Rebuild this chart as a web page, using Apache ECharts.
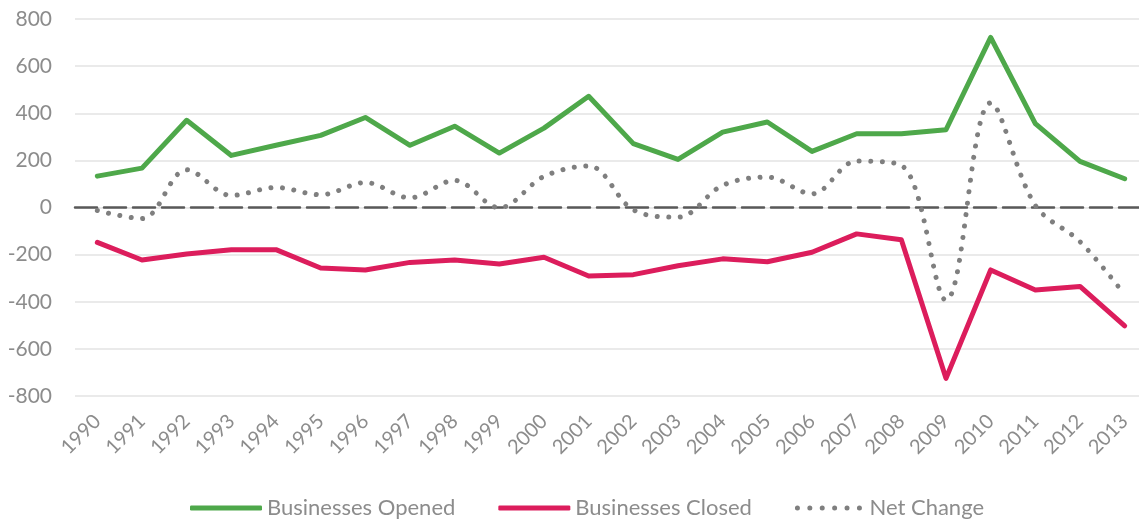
<!DOCTYPE html>
<html>
<head>
<meta charset="utf-8">
<script src="https://cdn.jsdelivr.net/npm/echarts@6/dist/echarts.min.js"></script>
<style>
html, body { margin: 0; padding: 0; background: #fff; }
#main { width: 1139px; height: 523px; }
</style>
</head>
<body>
<div id="main"></div>
<script>
var years = ['1990', '1991', '1992', '1993', '1994', '1995', '1996', '1997', '1998', '1999', '2000', '2001',
    '2002', '2003', '2004', '2005', '2006', '2007', '2008', '2009', '2010', '2011', '2012', '2013'];
var openedVals = [133, 167, 370, 221, 264, 306, 382, 264, 345, 231, 337, 472,
    271, 204, 320, 363, 238, 313, 313, 330, 722, 356, 196, 122];
var closedVals = [-148, -223, -197, -179, -179, -257, -265, -233, -223, -240, -211, -291,
    -285, -247, -218, -230, -190, -112, -137, -725, -265, -350, -335, -502];
var netVals = [-13, -47, 160, 51, 85, 54, 106, 41, 115, -1, 132, 176,
    -10, -41, 94, 129, 58, 197, 179, -393, 444, 9, -145, -370];
var yTicks = { min: -800, max: 800, step: 200 };

var font = 'Lato, "Open Sans", sans-serif';
var gray = '#8c8c8c';

// six dots for the legend icon of the dotted series
var dotPath = 'path://';
for (var i = 0; i < 6; i++) {
    var cx = 2.5 + i * 12.4;
    dotPath += 'M' + (cx - 2.5) + ' 2.5a2.5 2.5 0 1 0 5 0a2.5 2.5 0 1 0 -5 0Z';
}

var myChart = echarts.init(document.getElementById('main'));
var option = {
    animation: false,
    textStyle: { fontFamily: font },
    grid: {
        left: 75,
        top: 19,
        width: 1072,
        height: 377,
        containLabel: false,
        outerBoundsMode: 'none'
    },
    legend: {
        top: 492,
        left: 185,
        itemWidth: 72,
        itemHeight: 5,
        itemGap: 43,
        textStyle: { color: gray, fontSize: 22, fontFamily: font },
        data: [
            { name: 'Businesses Opened', icon: 'roundRect' },
            { name: 'Businesses Closed', icon: 'roundRect' },
            { name: 'Net Change', icon: dotPath }
        ]
    },
    xAxis: {
        type: 'category',
        data: years,
        boundaryGap: true,
        axisLine: {
            onZero: true,
            lineStyle: { color: '#595959', width: 2.5, type: [22, 7] }
        },
        axisTick: { show: false },
        axisLabel: {
            rotate: 45,
            margin: 22,
            color: gray,
            fontSize: 20,
            fontFamily: font,
            interval: 0
        }
    },
    yAxis: {
        type: 'value',
        min: yTicks.min,
        max: yTicks.max,
        interval: yTicks.step,
        axisLine: { show: false },
        axisTick: { show: false },
        splitLine: { lineStyle: { color: '#e3e3e3', width: 1.5 } },
        axisLabel: { color: gray, fontSize: 21, fontFamily: font, margin: 23 }
    },
    series: [
        {
            name: 'Businesses Opened',
            type: 'line',
            data: openedVals,
            symbol: 'none',
            z: 3,
            itemStyle: { color: '#4ea84a' },
            lineStyle: { color: '#4ea84a', width: 5, cap: 'round', join: 'round' }
        },
        {
            name: 'Businesses Closed',
            type: 'line',
            data: closedVals,
            symbol: 'none',
            z: 3,
            itemStyle: { color: '#dc1d5c' },
            lineStyle: { color: '#dc1d5c', width: 5, cap: 'round', join: 'round' }
        },
        {
            name: 'Net Change',
            type: 'line',
            data: netVals,
            symbol: 'none',
            smooth: 0.35,
            z: 2,
            itemStyle: { color: '#7f7f7f' },
            lineStyle: { color: '#7f7f7f', width: 5, type: [0.01, 11.5], cap: 'round' }
        }
    ]
};
myChart.setOption(option);
</script>
</body>
</html>
